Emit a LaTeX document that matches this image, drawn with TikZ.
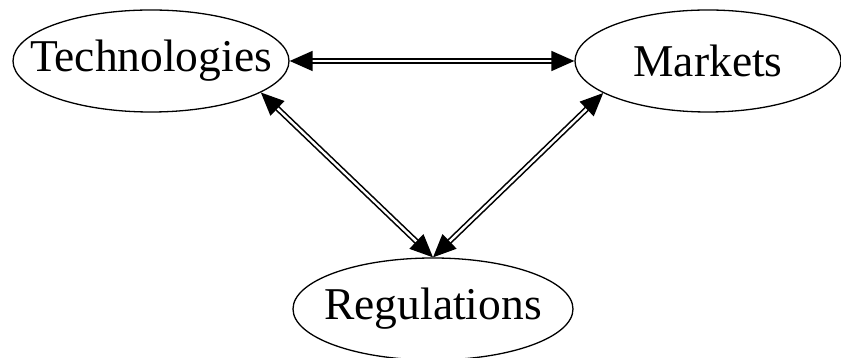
\documentclass[tikz,border=0pt]{standalone}
\usepackage{fontspec}
\setmainfont{Liberation Serif}
\usetikzlibrary{shapes.geometric, arrows.meta}

\begin{document}
\begin{tikzpicture}[x=1pt, y=1pt, font=\fontsize{45.5}{50}\selectfont,
  topic/.style={draw, ellipse, line width=1.3pt, inner sep=0pt, minimum height=102pt},
  link/.style={double, line width=1.6pt, double distance=2.4pt,
    {Triangle[length=23pt, width=20pt]}-{Triangle[length=23pt, width=20pt]}}]
  \useasboundingbox (0,0) rectangle (841,358);
  \node[topic, minimum width=276pt] (tech) at (151,297) {\makebox[0pt]{Technologies}};
  \node[topic, minimum width=266pt] (mark) at (708,297) {\makebox[0pt]{Markets}};
  \node[topic, minimum width=280pt] (reg) at (433,49) {\makebox[0pt]{Regulations}};
  \draw[link] (tech.east) -- (mark.west);
  \draw[link] (tech.-16) -- (reg.north);
  \draw[link] (mark.197) -- (reg.north);
\end{tikzpicture}
\end{document}
